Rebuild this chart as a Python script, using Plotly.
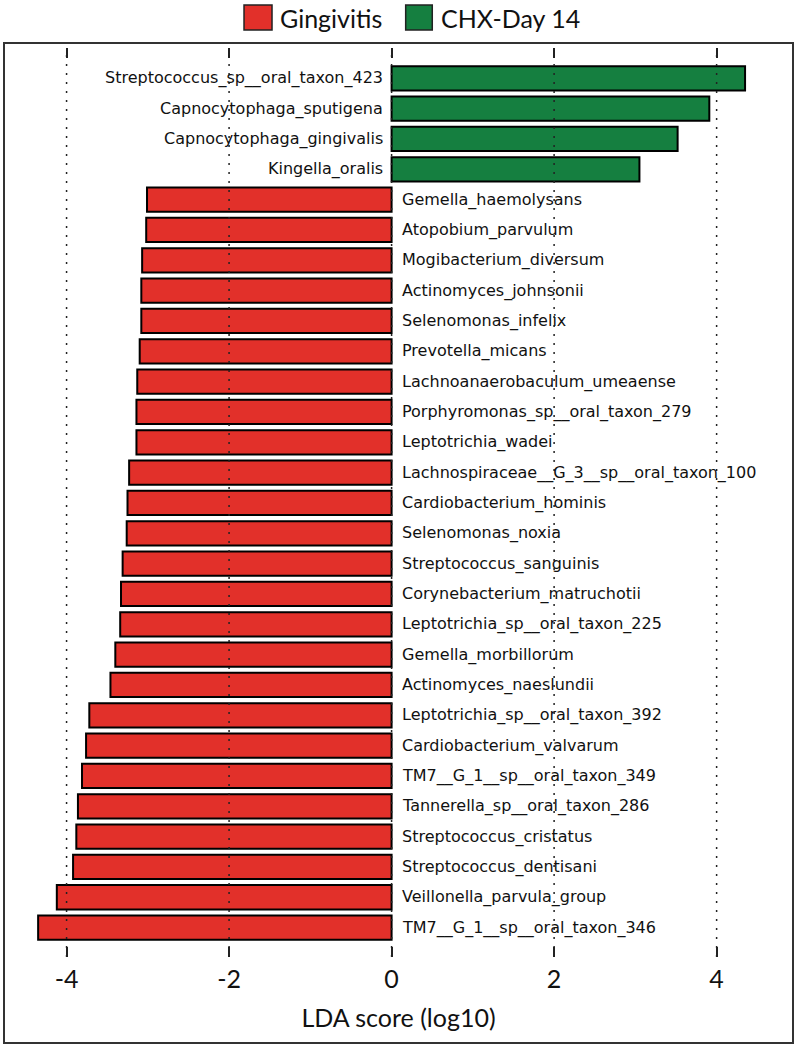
import plotly.graph_objects as go

# ---- data ----
chx_features = ["Streptococcus_sp__oral_taxon_423", "Capnocytophaga_sputigena",
                "Capnocytophaga_gingivalis", "Kingella_oralis"]
chx_lda = [4.35, 3.91, 3.52, 3.05]

ging_features = ["Gemella_haemolysans", "Atopobium_parvulum", "Mogibacterium_diversum",
                 "Actinomyces_johnsonii", "Selenomonas_infelix", "Prevotella_micans",
                 "Lachnoanaerobaculum_umeaense", "Porphyromonas_sp__oral_taxon_279",
                 "Leptotrichia_wadei", "Lachnospiraceae__G_3__sp__oral_taxon_100",
                 "Cardiobacterium_hominis", "Selenomonas_noxia", "Streptococcus_sanguinis",
                 "Corynebacterium_matruchotii", "Leptotrichia_sp__oral_taxon_225",
                 "Gemella_morbillorum", "Actinomyces_naeslundii",
                 "Leptotrichia_sp__oral_taxon_392", "Cardiobacterium_valvarum",
                 "TM7__G_1__sp__oral_taxon_349", "Tannerella_sp__oral_taxon_286",
                 "Streptococcus_cristatus", "Streptococcus_dentisani",
                 "Veillonella_parvula_group", "TM7__G_1__sp__oral_taxon_346"]
ging_lda = [-3.01, -3.02, -3.07, -3.08, -3.08, -3.10, -3.13, -3.14, -3.14, -3.23,
            -3.25, -3.26, -3.31, -3.33, -3.34, -3.40, -3.46, -3.72, -3.76, -3.81,
            -3.86, -3.88, -3.92, -4.12, -4.35]

x_ticks = [-4, -2, 0, 2, 4]
groups = ["Gingivitis", "CHX-Day 14"]
colors = {"Gingivitis": "#E2302A", "CHX-Day 14": "#157F40"}

all_features = chx_features + ging_features

fig = go.Figure()
fig.add_trace(go.Bar(y=chx_features, x=chx_lda, orientation="h", name=groups[1],
                     marker=dict(color=colors[groups[1]], line=dict(color="black", width=2)),
                     width=0.8, showlegend=False))
fig.add_trace(go.Bar(y=ging_features, x=ging_lda, orientation="h", name=groups[0],
                     marker=dict(color=colors[groups[0]], line=dict(color="black", width=2)),
                     width=0.8, showlegend=False))

# feature labels beside the zero line
annotations = []
for f, v in zip(all_features, chx_lda + ging_lda):
    annotations.append(dict(
        x=0, y=f, xref="x", yref="y", text=f, showarrow=False,
        xanchor="right" if v > 0 else "left", xshift=-7 if v > 0 else 8,
        font=dict(family="DejaVu Sans", size=16, color="#111")))

# manual legend
leg_boxes = [(0.3042, 0.3397), (0.5091, 0.5428)]
leg_text_x = [0.3473, 0.5517]
shapes = []
for g, (bx0, bx1), tx in zip(groups, leg_boxes, leg_text_x):
    shapes.append(dict(type="rect", xref="paper", yref="paper", x0=bx0, x1=bx1,
                       y0=1.0198, y1=1.0473, fillcolor=colors[g],
                       line=dict(color="#222", width=1.5)))
    annotations.append(dict(x=tx, y=1.0335, xref="paper", yref="paper", text=g,
                            showarrow=False, xanchor="left", yanchor="middle",
                            font=dict(family="Lato", size=25, color="#111")))

# dotted grid lines above bars
for t in x_ticks:
    shapes.append(dict(type="line", xref="x", yref="paper", x0=t, x1=t, y0=0, y1=1,
                       layer="above", line=dict(color="#222", width=1.5, dash="2px,7px")))

# outer frame
shapes.append(dict(type="rect", xref="paper", yref="paper", x0=0, x1=1,
                   y0=-0.0946, y1=1.0055, line=dict(color="#333", width=2),
                   fillcolor="rgba(0,0,0,0)", layer="above"))

fig.update_layout(
    width=800, height=1049,
    margin=dict(l=4, r=7, t=48, b=92),
    paper_bgcolor="white", plot_bgcolor="white",
    bargap=0.2, barmode="overlay",
    shapes=shapes, annotations=annotations,
    xaxis=dict(range=[-4.77, 4.94], tickvals=x_ticks, ticktext=[str(t) for t in x_ticks],
               showgrid=False, zeroline=False, ticks="inside", ticklen=10, tickwidth=1.5,
               tickcolor="#222", showline=True, linecolor="rgba(255,255,255,0)",
               mirror="ticks",
               tickfont=dict(family="Lato", size=25, color="#111"),
               title=dict(text="LDA score (log10)", standoff=17,
                          font=dict(family="Lato", size=25, color="#111"))),
    yaxis=dict(categoryorder="array", categoryarray=all_features,
               range=[28.97, -1.0], showticklabels=False, showgrid=False,
               zeroline=False, ticks=""),
)

fig.write_html("out.html", config={"displayModeBar": False},
               post_script="document.body.style.margin='0';document.body.style.overflow='hidden';")
